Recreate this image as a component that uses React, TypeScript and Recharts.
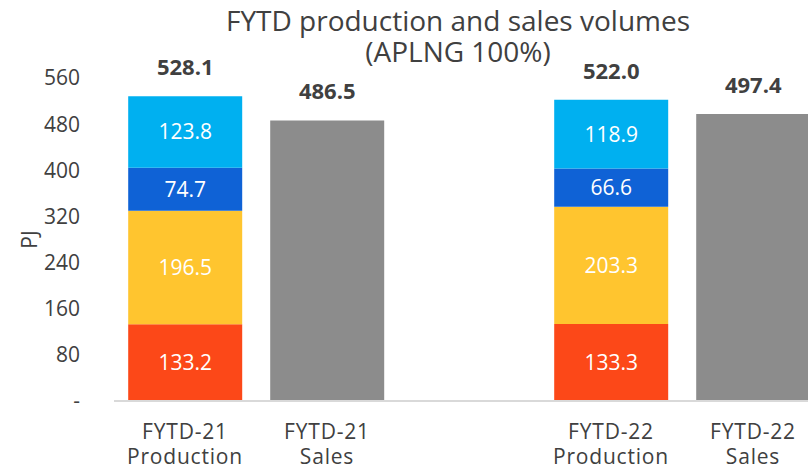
import { BarChart, Bar, XAxis, YAxis, LabelList, Label } from "recharts";

const periods = ["FYTD-21", "FYTD-21", "", "FYTD-22", "FYTD-22"];
const kinds = ["Production", "Sales", "", "Production", "Sales"];

const conventional = [133.2, null, null, 133.3, null];
const cbmOperated = [196.5, null, null, 203.3, null];
const cbmNonOperated = [74.7, null, null, 66.6, null];
const otherGas = [123.8, null, null, 118.9, null];
const sales = [null, 486.5, null, null, 497.4];
const totals = ["528.1", "486.5", "", "522.0", "497.4"];

const yTicks = [0, 80, 160, 240, 320, 400, 480, 560];

const data = periods.map((p, i) => ({
  name: `${p}|${kinds[i]}`,
  red: conventional[i],
  yellow: cbmOperated[i],
  blue: cbmNonOperated[i],
  light: otherGas[i],
  sales: sales[i],
}));

const FONT = "'Open Sans', sans-serif";
const TEXT = "#404040";

const fmt = (v: any) => (v == null ? "" : Number(v).toFixed(1));

const TotalLabel = (props: any) => {
  const { x, y, width, value, source } = props;
  if (value == null || x == null) return <g />;
  const i = (source as (number | null)[]).indexOf(Number(value));
  return (
    <text
      x={x + width / 2}
      y={y - 30}
      textAnchor="middle"
      dominantBaseline="central"
      fill={TEXT}
      fontWeight="bold"
      fontSize={22}
      fontFamily={FONT}
    >
      {i >= 0 ? totals[i] : ""}
    </text>
  );
};

const XTick = (props: any) => {
  const { x, y, payload } = props;
  const [top, bottom] = String(payload.value).split("|");
  return (
    <g>
      <text x={x} y={y + 30} textAnchor="middle" fill={TEXT} fontSize={21} letterSpacing={0.8} fontFamily={FONT}>
        {top}
      </text>
      <text x={x} y={y + 55} textAnchor="middle" fill={TEXT} fontSize={21} letterSpacing={0.8} fontFamily={FONT}>
        {bottom}
      </text>
    </g>
  );
};

export default function App() {
  return (
    <div
      style={{
        position: "absolute",
        left: 0,
        top: 0,
        width: 808,
        height: 468,
        overflow: "hidden",
        background: "#fff",
      }}
    >
      <BarChart
        width={824}
        height={468}
        data={data}
        margin={{ top: 78, right: 0, left: 0, bottom: 0 }}
        barCategoryGap="10%"
        style={{ position: "absolute", left: 0, top: 0 }}
      >
        <XAxis
          dataKey="name"
          height={67}
          tickLine={false}
          axisLine={{ stroke: "#d9d9d9", strokeWidth: 2 }}
          tick={<XTick />}
          interval={0}
        />
        <YAxis
          width={114}
          domain={[0, 560]}
          ticks={yTicks}
          axisLine={false}
          tickLine={false}
          tickMargin={28}
          tick={{ fill: TEXT, fontSize: 21, fontFamily: FONT }}
          tickFormatter={(v: number) => (v === 0 ? "-" : String(v))}
        >
          <Label
            value="PJ"
            angle={-90}
            position="insideLeft"
            offset={30}
            style={{ fill: TEXT, fontSize: 21, fontFamily: FONT, textAnchor: "middle" }}
          />
        </YAxis>
        <Bar dataKey="red" stackId="a" fill="#FC4818" isAnimationActive={false}>
          <LabelList dataKey="red" position="center" formatter={fmt} fill="#fff" fontSize={21} fontFamily={FONT} />
        </Bar>
        <Bar dataKey="yellow" stackId="a" fill="#FFC52F" isAnimationActive={false}>
          <LabelList dataKey="yellow" position="center" formatter={fmt} fill="#fff" fontSize={21} fontFamily={FONT} />
        </Bar>
        <Bar dataKey="blue" stackId="a" fill="#0F62D6" isAnimationActive={false}>
          <LabelList dataKey="blue" position="center" formatter={fmt} fill="#fff" fontSize={21} fontFamily={FONT} />
        </Bar>
        <Bar dataKey="light" stackId="a" fill="#00B0F0" isAnimationActive={false}>
          <LabelList dataKey="light" position="center" formatter={fmt} fill="#fff" fontSize={21} fontFamily={FONT} />
          <LabelList dataKey="light" content={<TotalLabel source={otherGas} />} />
        </Bar>
        <Bar dataKey="sales" stackId="a" fill="#8C8C8C" isAnimationActive={false}>
          <LabelList dataKey="sales" content={<TotalLabel source={sales} />} />
        </Bar>
      </BarChart>
      <div
        style={{
          position: "absolute",
          left: 0,
          width: 808,
          top: 5,
          textAlign: "center",
          fontFamily: FONT,
          fontSize: 28,
          lineHeight: "31px",
          color: TEXT,
          paddingLeft: 108,
          boxSizing: "border-box",
        }}
      >
        FYTD production and sales volumes
        <br />
        (APLNG 100%)
      </div>
    </div>
  );
}
